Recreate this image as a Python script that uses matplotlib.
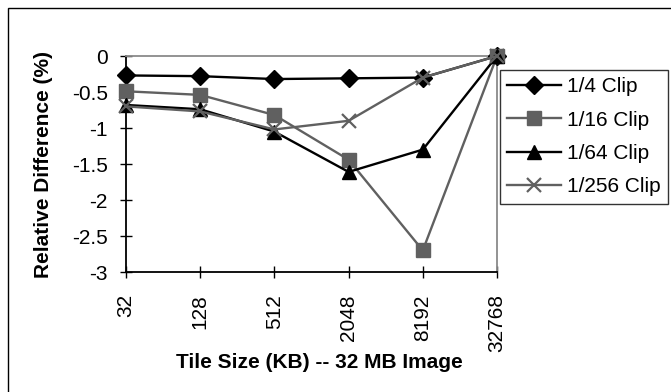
import matplotlib.pyplot as plt
from matplotlib.patches import Rectangle

plt.rcParams['font.family'] = ['Liberation Sans', 'DejaVu Sans']

tile_sizes = ['32', '128', '512', '2048', '8192', '32768']
clip_labels = ['1/4 Clip', '1/16 Clip', '1/64 Clip', '1/256 Clip']
clip_4 = [-0.27, -0.28, -0.32, -0.31, -0.30, 0.0]
clip_16 = [-0.49, -0.54, -0.82, -1.44, -2.70, 0.0]
clip_64 = [-0.68, -0.74, -1.05, -1.61, -1.30, 0.0]
clip_256 = [-0.70, -0.77, -1.02, -0.90, -0.30, 0.0]

GRAY = '#606060'
styles = [
    dict(color='black', marker='D', ms=9),
    dict(color=GRAY, marker='s', ms=9.5),
    dict(color='black', marker='^', ms=10.5),
    dict(color=GRAY, marker='x', ms=9.5, mew=1.6),
]

fig = plt.figure(figsize=(6.71, 3.92), dpi=100)
ax = fig.add_axes([126 / 671, 1 - 272 / 392, 371 / 671, 216 / 392])

x = range(len(tile_sizes))
for series, label, st in zip([clip_4, clip_16, clip_64, clip_256], clip_labels, styles):
    ax.plot(x, series, lw=1.7, label=label, clip_on=False, zorder=3,
            markeredgecolor=st['color'], **st)

ax.set_xlim(0, len(tile_sizes) - 1)
ax.set_ylim(-3, 0)
ax.set_xticks(list(x))
ax.set_xticklabels(tile_sizes, rotation=90, fontsize=15)
ax.set_yticks([0, -0.5, -1, -1.5, -2, -2.5, -3])
ax.set_yticklabels(['0', '-0.5', '-1', '-1.5', '-2', '-2.5', '-3'], fontsize=15)
ax.tick_params(direction='inout', length=8, width=1, color='black')
ax.tick_params(axis='y', pad=9)
ax.tick_params(axis='x', pad=12)

for side in ['left', 'bottom']:
    ax.spines[side].set_color('black')
    ax.spines[side].set_linewidth(1.3)
for side in ['top', 'right']:
    ax.spines[side].set_color('#8a8a8a')
    ax.spines[side].set_linewidth(1.3)

fig.text(44 / 671, 1 - 164 / 392, 'Relative Difference (%)', rotation=90,
         ha='center', va='center', fontsize=15, fontweight='bold')
fig.text(319 / 671, 1 - 363 / 392, 'Tile Size (KB) -- 32 MB Image',
         ha='center', va='center', fontsize=15, fontweight='bold')

leg = fig.legend(loc='upper left', bbox_to_anchor=(500 / 671, 1 - 70 / 392),
                 fontsize=15, frameon=True, fancybox=False, shadow=False,
                 handlelength=2.6, handletextpad=0.25, borderpad=0.35,
                 labelspacing=0.69, borderaxespad=0)
leg.get_frame().set_edgecolor('black')
leg.get_frame().set_linewidth(1)

# outer chart frame, running off the right and bottom edges
fig.patches.append(Rectangle((8 / 671, -0.2), 1.2, 1.2 - 8 / 392,
                             transform=fig.transFigure, fill=False,
                             edgecolor='black', lw=1))

fig.savefig('out.png', dpi=100)
